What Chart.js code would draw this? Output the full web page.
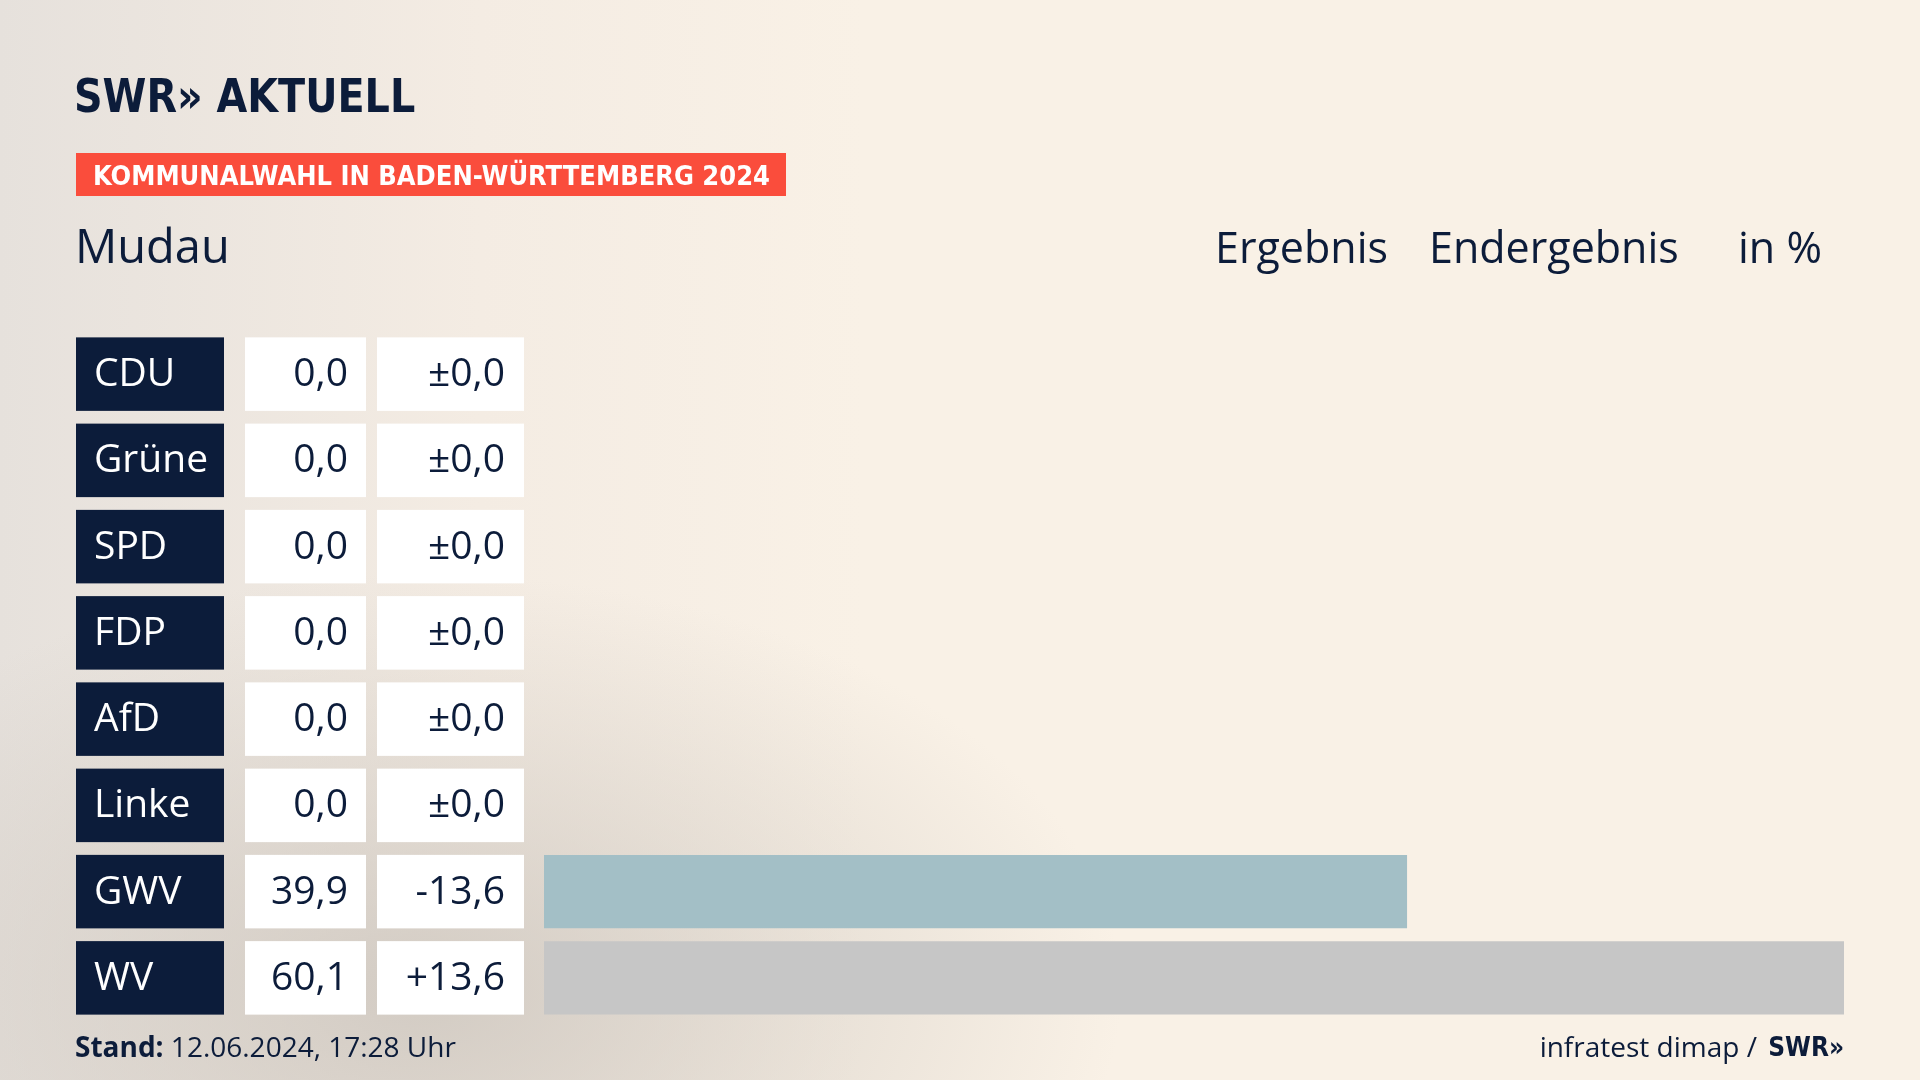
<!DOCTYPE html>
<html>
<head>
<meta charset="utf-8">
<script src="https://cdn.jsdelivr.net/npm/chart.js@4"></script>
<style>
html, body { margin: 0; padding: 0; }
body {
	width: 1920px; height: 1080px; overflow: hidden;
	background:
		radial-gradient(ellipse 700px 420px at 22% 92%, rgba(205,198,190,0.85), rgba(249,240,230,0) 100%),
		linear-gradient(90deg, #e6e1dc 0%, #f4ece3 25%, #f9f1e6 45%, #f9f1e6 100%);
}
canvas { position: absolute; left: 0; top: 0; }
</style>
</head>
<body>
<canvas id="myChart" width="1920" height="1080"></canvas>
<script>
const parties = ['CDU', 'Grüne', 'SPD', 'FDP', 'AfD', 'Linke', 'GWV', 'WV'];
const results = [0.0, 0.0, 0.0, 0.0, 0.0, 0.0, 39.9, 60.1];
const changes = ['±0,0', '±0,0', '±0,0', '±0,0', '±0,0', '±0,0', '-13,6', '+13,6'];
const barColors = ['#000000', '#46962b', '#e3000f', '#ffed00', '#009ee0', '#be3075', '#a3bfc6', '#c6c6c6'];

const NAVY = '#0c1c3a';
const FONT = '"Open Sans", "Noto Sans", sans-serif';
const BOLD = '"DejaVu Sans Condensed", "Liberation Sans Narrow", "Open Sans", sans-serif';

function fmt(v) {
	return v.toFixed(1).replace('.', ',');
}

// labels, boxes, header and footer
const tablePlugin = {
	id: 'tablePlugin',
	afterDraw(chart) {
		const c = chart.ctx;
		const yScale = chart.scales.y;
		const half = 36.75;
		c.save();

		// logo
		c.fillStyle = NAVY;
		c.font = 'bold 46px ' + BOLD;
		c.textBaseline = 'alphabetic';
		c.textAlign = 'left';
		c.save();
		c.translate(74, 112);
		c.scale(0.96, 1);
		c.fillText('SWR» AKTUELL', 0, 0);
		c.restore();

		// banner
		c.fillStyle = '#fa4d3c';
		c.fillRect(76, 153, 710, 43);
		c.fillStyle = '#ffffff';
		c.font = 'bold 27px ' + BOLD;
		c.fillText('KOMMUNALWAHL IN BADEN-WÜRTTEMBERG 2024', 93, 185);

		// header
		c.fillStyle = NAVY;
		c.font = '47px ' + FONT;
		c.fillText('Mudau', 75, 263);
		c.font = '43px ' + FONT;
		c.fillText('Ergebnis', 1215, 263);
		c.fillText('Endergebnis', 1429, 263);
		c.fillText('in %', 1738, 263);

		parties.forEach((p, i) => {
			const y = yScale.getPixelForValue(i);
			c.fillStyle = NAVY;
			c.fillRect(76, y - half, 148, half * 2);
			c.fillStyle = '#ffffff';
			c.fillRect(245, y - half, 121, half * 2);
			c.fillRect(377, y - half, 147, half * 2);

			c.textBaseline = 'middle';
			c.font = '39px ' + FONT;
			c.textAlign = 'left';
			c.fillStyle = '#ffffff';
			c.fillText(p, 94, y + 1);
			c.fillStyle = NAVY;
			c.textAlign = 'right';
			c.fillText(fmt(results[i]), 348, y + 1);
			c.fillText(changes[i], 505, y + 1);
		});

		// footer
		c.textBaseline = 'alphabetic';
		c.textAlign = 'left';
		c.fillStyle = NAVY;
		c.font = 'bold 28px ' + FONT;
		c.fillText('Stand:', 75, 1057);
		const w = c.measureText('Stand: ').width;
		c.font = '28px ' + FONT;
		c.fillText('12.06.2024, 17:28 Uhr', 75 + w, 1057);
		c.textAlign = 'right';
		c.font = 'bold 26px ' + BOLD;
		c.fillText('SWR»', 1844, 1056);
		const w2 = c.measureText('SWR»').width;
		c.font = '28px ' + FONT;
		c.fillText('infratest dimap / ', 1844 - w2 - 4, 1057);
		c.restore();
	}
};

const ctx = document.getElementById('myChart').getContext('2d');
const myChart = new Chart(ctx, {
	type: 'bar',
	data: {
		labels: parties,
		datasets: [{
			data: results,
			backgroundColor: barColors,
			categoryPercentage: 1,
			barPercentage: 0.852,
			borderWidth: 0
		}]
	},
	options: {
		indexAxis: 'y',
		responsive: false,
		animation: false,
		layout: { padding: { left: 544, right: 76, top: 331, bottom: 59 } },
		scales: {
			x: { display: false, min: 0, max: 60.1 },
			y: { display: false }
		},
		plugins: { legend: { display: false }, tooltip: { enabled: false } }
	},
	plugins: [tablePlugin]
});
</script>
</body>
</html>
